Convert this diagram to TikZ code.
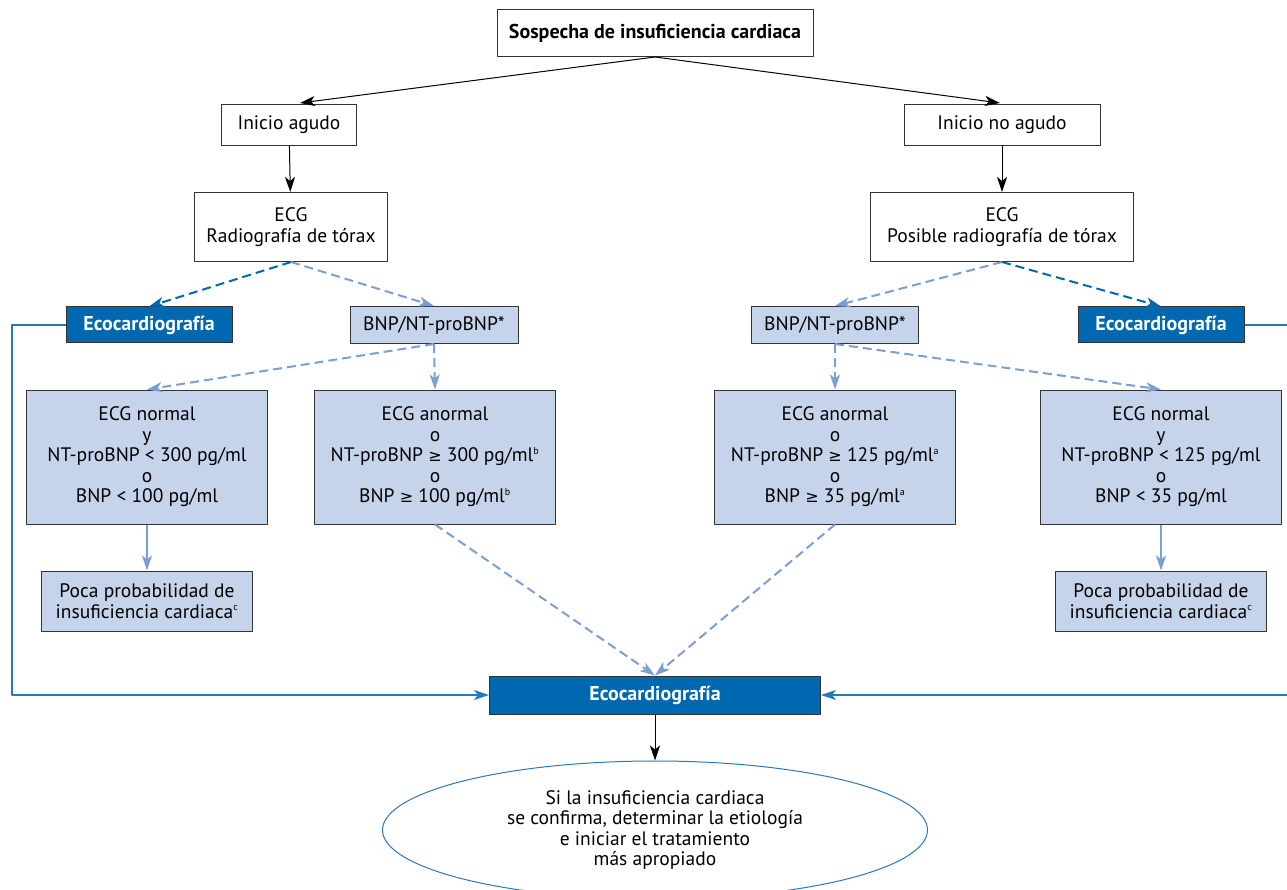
\documentclass[tikz,border=0pt]{standalone}
\usepackage{fontspec}
\setmainfont{PT Sans}
\newfontfamily\symf{DejaVu Sans}
\usetikzlibrary{arrows.meta,shapes.geometric}
\definecolor{ecoblue}{RGB}{0,103,177}
\definecolor{palebox}{RGB}{197,211,235}
\definecolor{paleline}{RGB}{123,159,212}
\definecolor{loopblue}{RGB}{40,120,190}
\newcommand{\mayor}{{\symf\fontsize{16}{16}\selectfont ≥}}
\newcommand{\nota}[1]{\textsuperscript{\fontsize{10}{10}\selectfont #1}}
\begin{document}
\begin{tikzpicture}[x=1pt, y=-1pt, font=\fontsize{19.5}{20.5}\selectfont, line join=round,
  >={Stealth[length=15pt, width=10pt, inset=4pt]},
  plain/.style={draw=black!80, line width=1pt, fill=white, align=center, inner sep=0pt},
  pale/.style={plain, fill=palebox},
  eco/.style={plain, fill=ecoblue, text=white, font=\fontsize{20}{20.5}\selectfont\bfseries},
  darkdash/.style={->, ecoblue, line width=2pt, dash pattern=on 9pt off 5pt},
  paledash/.style={->, paleline, line width=2pt, dash pattern=on 9pt off 5pt}]
\useasboundingbox (0,0) rectangle (1287,890);
% arriba
\node[plain, minimum width=316, minimum height=47, font=\fontsize{20}{20.5}\selectfont\bfseries] (sosp) at (655,33) {Sospecha de insuficiencia cardiaca};
\node[plain, minimum width=135, minimum height=41] (agudo) at (289,125) {Inicio agudo};
\node[plain, minimum width=196, minimum height=41] (noagudo) at (1002,125) {Inicio no agudo};
\node[plain, minimum width=193, minimum height=69] (rxa) at (291,227) {ECG\\Radiografía de tórax};
\node[plain, minimum width=263, minimum height=69] (rxb) at (1002,227) {ECG\\Posible radiografía de tórax};
% segunda fila
\node[eco, minimum width=166, minimum height=36] (ecoa) at (149,325) {Ecocardiografía};
\node[pale, minimum width=168, minimum height=37] (bnpa) at (434,325) {BNP/NT-proBNP*};
\node[pale, minimum width=167, minimum height=37] (bnpb) at (835,325) {BNP/NT-proBNP*};
\node[eco, minimum width=166, minimum height=36] (ecob) at (1161,325) {Ecocardiografía};
% criterios
\node[pale, minimum width=241, minimum height=134] (norma) at (147,457) {ECG normal\\y\\NT-proBNP < 300 pg/ml\\o\\BNP < 100 pg/ml};
\node[pale, minimum width=241, minimum height=134] (anorma) at (435,457) {ECG anormal\\o\\NT-proBNP \mayor{} 300 pg/ml\nota{b}\\o\\BNP \mayor{} 100 pg/ml\nota{b}};
\node[pale, minimum width=241, minimum height=134] (anormb) at (835,457) {ECG anormal\\o\\NT-proBNP \mayor{} 125 pg/ml\nota{a}\\o\\BNP \mayor{} 35 pg/ml\nota{a}};
\node[pale, minimum width=241, minimum height=134] (normb) at (1161,457) {ECG normal\\y\\NT-proBNP < 125 pg/ml\\o\\BNP < 35 pg/ml};
\node[pale, minimum width=211, minimum height=60] (pocaa) at (147,601) {Poca probabilidad de\\insuficiencia cardiaca\nota{c}};
\node[pale, minimum width=211, minimum height=60] (pocab) at (1161,601) {Poca probabilidad de\\insuficiencia cardiaca\nota{c}};
% abajo
\node[eco, minimum width=331, minimum height=38] (ecoc) at (655,695) {Ecocardiografía};
\node[draw=loopblue, line width=1pt, ellipse, minimum width=545, minimum height=138, align=center] (fin) at (655,830) {Si la insuficiencia cardiaca\\se confirma, determinar la etiología\\e iniciar el tratamiento\\más apropiado};
% conectores
\draw[->, line width=1pt] (sosp.south) -- (300,103);
\draw[->, line width=1pt] (sosp.south) -- (1000,103);
\draw[->, line width=1pt] (agudo) -- (rxa);
\draw[->, line width=1pt] (noagudo) -- (rxb);
\draw[darkdash] (rxa.south) -- (ecoa.north);
\draw[paledash] (rxa.south) -- (bnpa.north);
\draw[paledash] (rxb.south) -- (bnpb.north);
\draw[darkdash] (rxb.south) -- (ecob.north);
\draw[paledash] (bnpa.south) -- (norma.north);
\draw[paledash] (bnpa.south) -- (anorma.north);
\draw[paledash] (bnpb.south) -- (anormb.north);
\draw[paledash] (bnpb.south) -- (normb.north);
\draw[->, paleline, line width=2pt] (norma) -- (pocaa);
\draw[->, paleline, line width=2pt] (normb) -- (pocab);
\draw[paledash] (anorma.south) -- (ecoc.north);
\draw[paledash] (anormb.south) -- (ecoc.north);
\draw[->, loopblue, line width=1.2pt] (ecoa.west) -- (12,325) |- (ecoc.west);
\draw[->, loopblue, line width=1.2pt] (ecob.east) -- (1292,325) |- (ecoc.east);
\draw[->, line width=1pt] (ecoc) -- (fin);
\end{tikzpicture}
\end{document}
